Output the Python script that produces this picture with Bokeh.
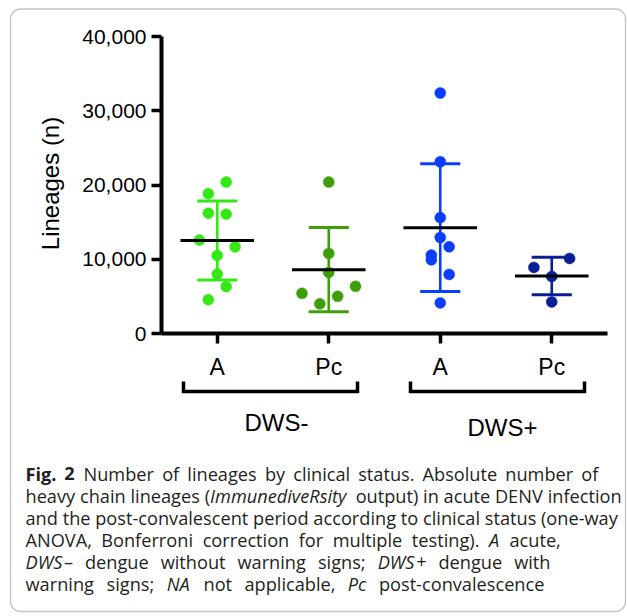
import numpy as np
from bokeh.plotting import figure
from bokeh.models import Range1d, FixedTicker, NumeralTickFormatter, Label, BoxAnnotation
from bokeh.embed import file_html
from bokeh.resources import INLINE

# ---------------- data ----------------
categories = ["A", "Pc", "A", "Pc"]
clinical_groups = ["DWS-", "DWS+"]
y_ticks = [0, 10000, 20000, 30000, 40000]
y_label = "Lineages (n)"

dws_neg_acute = [20400, 18830, 16200, 16070, 12580, 11680, 10510, 8010, 6310, 4560]
dws_neg_pc = [20400, 10780, 8230, 5410, 3990, 5010, 6350]
dws_pos_acute = [32390, 23130, 15610, 12930, 11680, 10560, 9930, 7960, 4120]
dws_pos_pc = [10110, 8900, 7690, 4250]

# horizontal scatter (jitter) slots of each point
jit_neg_acute = [1, -1, -1, 1, -2, 2, 0, 0, 1, -1]
jit_neg_pc = [0, 0, 0, -3, -1, 1, 3]
jit_pos_acute = [0, 0, 0, 0, 1, -1, -1, 1, 0]
jit_pos_pc = [2, -2, 0, 0]

# caption: (word, style, space before it)
N, I, B = "normal", "italic", "bold"
caption_lines = [
    [("Fig.", B, False), ("2", B, True)] + [(w, N, True) for w in
        "Number of lineages by clinical status. Absolute number of".split()],
    [(w, N, i > 0) for i, w in enumerate("heavy chain lineages".split())] +
    [("(", N, True), ("ImmunediveRsity", I, False)] +
    [(w, N, True) for w in "output) in acute DENV infection".split()],
    [(w, N, i > 0) for i, w in enumerate(
        "and the post-convalescent period according to clinical status (one-way".split())],
    [(w, N, i > 0) for i, w in enumerate("ANOVA, Bonferroni correction for multiple testing).".split())] +
    [("A", I, True), ("acute,", N, True)],
    [("DWS", I, False), ("\u2013", N, False)] +
    [(w, N, True) for w in "dengue without warning signs;".split()] +
    [("DWS", I, True), ("+", N, False), ("dengue", N, True), ("with", N, True)],
    [("warning", N, False), ("signs;", N, True), ("NA", I, True), ("not", N, True), ("applicable,", N, True),
     ("Pc", I, True), ("post-convalescence", N, True)],
]

series = [dws_neg_acute, dws_neg_pc, dws_pos_acute, dws_pos_pc]
jitters = [jit_neg_acute, jit_neg_pc, jit_pos_acute, jit_pos_pc]
colors = ["#33E814", "#3D9E0A", "#0B3DFF", "#0A1E98"]

# ---------------- layout helpers (canvas pixels -> data) ----------------
W, H = 627, 616
FL, FR, FT, FB = 161, 607, 36, 333   # where x=-0.5..3.5 and y=0..40000 sit on the canvas


def dx(px):
    return -0.5 + (px - FL) / (FR - FL) * 4.0


def dy(py):
    return (FB - py) / (FB - FT) * 40000.0


p = figure(width=W, height=H, x_range=Range1d(dx(0), dx(W)), y_range=Range1d(dy(H), dy(0)),
           output_backend="svg", toolbar_location=None,
           min_border_left=0, min_border_right=0, min_border_top=0, min_border_bottom=0)
p.outline_line_color = None
p.xgrid.visible = False
p.ygrid.visible = False
p.background_fill_color = "white"
p.border_fill_color = "white"

AX_FONT = "Liberation Sans"

yax = p.yaxis[0]
yax.fixed_location = -0.5
yax.bounds = (0, 40000)
yax.ticker = FixedTicker(ticks=y_ticks)
yax.formatter = NumeralTickFormatter(format="0,0")
yax.axis_line_width = 4
yax.major_tick_line_width = 3.5
yax.major_tick_out = 10
yax.major_tick_in = 0
yax.minor_tick_line_color = None
yax.major_label_text_font = AX_FONT
yax.major_label_text_font_size = "21px"
yax.major_label_text_color = "black"
yax.major_label_standoff = 5

xax = p.xaxis[0]
xax.fixed_location = 0
xax.bounds = (-0.5, 3.5)
xax.ticker = FixedTicker(ticks=list(range(len(categories))))
xax.major_label_overrides = {i: c for i, c in enumerate(categories)}
xax.axis_line_width = 4
xax.major_tick_line_width = 3.5
xax.major_tick_out = 10
xax.major_tick_in = 0
xax.minor_tick_line_color = None
xax.major_label_text_font = AX_FONT
xax.major_label_text_font_size = "23px"
xax.major_label_text_color = "black"
xax.major_label_standoff = 10

p.add_layout(Label(x=dx(50), y=dy(183), text=y_label, angle=np.pi / 2, text_align="center",
                   text_baseline="middle", text_font=AX_FONT, text_font_size="24px", text_color="black"))

# ---------------- data marks ----------------
JIT = 0.08
for i, (vals, jit, col) in enumerate(zip(series, jitters, colors)):
    v = np.array(vals, dtype=float)
    m = v.mean()
    sd = v.std(ddof=1)
    p.segment(x0=[i], y0=[m - sd], x1=[i], y1=[m + sd], line_color=col, line_width=2.6)
    p.segment(x0=[i - 0.18, i - 0.18], y0=[m - sd, m + sd], x1=[i + 0.18, i + 0.18], y1=[m - sd, m + sd],
              line_color=col, line_width=3)
    xs = i + np.array(jit, dtype=float) * JIT
    p.scatter(x=xs, y=v, size=11, fill_color=col, line_color=col, line_width=0.5)
    p.segment(x0=[i - 0.33], y0=[m], x1=[i + 0.33], y1=[m], line_color="black", line_width=3)

# ---------------- brackets and group labels ----------------
brackets = [(183, 357), (410, 584)]
group_label_pos = [(276, 422), (502, 427)]
for (l, r), name, (gx, gy) in zip(brackets, clinical_groups, group_label_pos):
    p.line(x=[dx(l), dx(l), dx(r), dx(r)], y=[dy(381), dy(391), dy(391), dy(381)],
           line_color="black", line_width=3.5, line_join="miter")
    p.add_layout(Label(x=dx(gx), y=dy(gy), text=name, text_align="center", text_baseline="middle",
                       text_font=AX_FONT, text_font_size="24px", text_color="black"))

# ---------------- caption (word by word, approximate Open Sans advances) ----------------
ADV = {' ': 532, 'a': 1139, 'b': 1255, 'c': 975, 'd': 1255, 'e': 1149, 'f': 694, 'g': 1122, 'h': 1257,
       'i': 518, 'j': 518, 'k': 1075, 'l': 518, 'm': 1905, 'n': 1257, 'o': 1237, 'p': 1255, 'q': 1255,
       'r': 836, 's': 977, 't': 723, 'u': 1257, 'v': 1026, 'w': 1593, 'x': 1073, 'y': 1028, 'z': 977,
       'A': 1296, 'B': 1327, 'C': 1292, 'D': 1493, 'E': 1139, 'F': 1057, 'G': 1491, 'H': 1511, 'I': 571,
       'N': 1556, 'O': 1595, 'P': 1233, 'R': 1266, 'S': 1124, 'V': 1219, 'W': 1896,
       '(': 604, ')': 604, '.': 545, ',': 502, ';': 545, '-': 659, '\u2013': 1024, '+': 1171, '2': 1171}
STYLE_K = {N: 1.0, I: 0.96, B: 1.07}
CAP_FONT = "Open Sans"
CAP_SIZE = 18.2
CAP_LEFT = 25.0
line_right = [598, 614, None, 560, 550, 544]   # right end of each caption line on the page
baselines = [473, 495, 517, 539, 561, 583]


def tw(s, style):
    return sum(ADV.get(ch, 1100) for ch in s) / 2048.0 * CAP_SIZE * STYLE_K[style]


for line, by, right in zip(caption_lines, baselines, line_right):
    words_w = sum(tw(w, st) for w, st, _ in line)
    n_gaps = sum(1 for _, _, sp in line if sp)
    gap = tw(" ", N)
    if right is not None and n_gaps:
        gap = max(gap, (right - CAP_LEFT - words_w) / n_gaps)
    x = CAP_LEFT
    for word, style, sp in line:
        if sp:
            x += gap
        p.add_layout(Label(x=dx(x), y=dy(by), text=word, text_align="left", text_baseline="alphabetic",
                           text_font=CAP_FONT, text_font_size=f"{CAP_SIZE}px", text_font_style=style,
                           text_color="#231F20"))
        x += tw(word, style)

# ---------------- rounded frame ----------------
p.add_layout(BoxAnnotation(left=dx(10), right=dx(625), top=dy(8.5), bottom=dy(611),
                           fill_alpha=0, line_color="#3A3A3A", line_width=1.3, border_radius=10))

open("out.html", "w").write(file_html(p, INLINE))
